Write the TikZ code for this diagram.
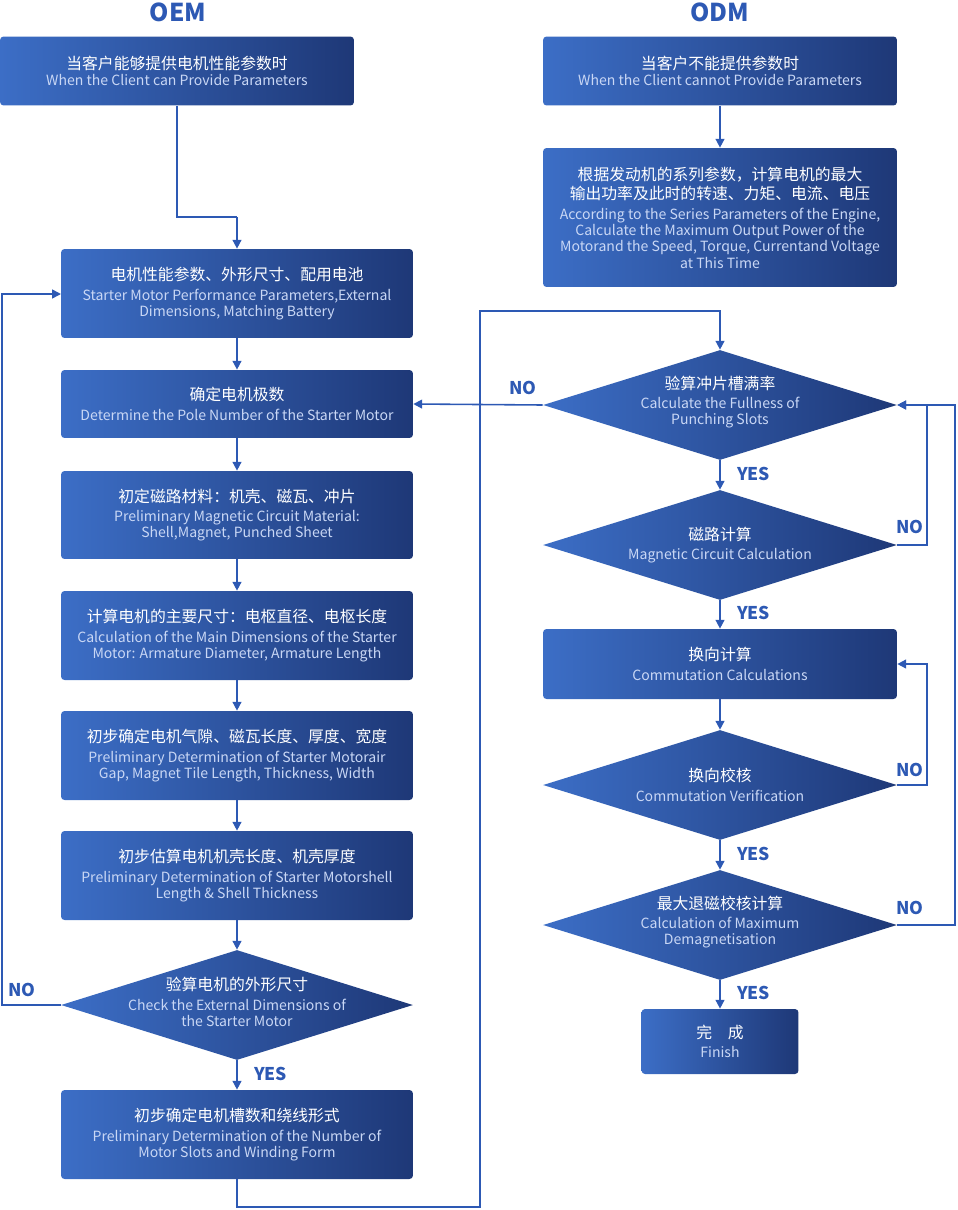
\documentclass[tikz,border=0pt]{standalone}
\usepackage{fontspec}
\setmainfont{Noto Sans CJK SC}
\usetikzlibrary{arrows.meta,shapes.geometric}
\definecolor{boxlight}{HTML}{3C6EC6}
\definecolor{boxdark}{HTML}{1E3877}
\definecolor{entext}{HTML}{C9D7F5}
\definecolor{flow}{HTML}{2D59B4}
\newcommand{\zh}[1]{{\fontsize{9pt}{9.2pt}\selectfont #1}}
\newcommand{\en}[1]{{\color{entext}\fontsize{8pt}{9.2pt}\selectfont #1}}
\tikzset{
  box/.style={rectangle, rounded corners=2pt, left color=boxlight, right color=boxdark,
    text=white, align=center, minimum width=7.04cm, inner sep=2pt,
    font=\fontsize{8pt}{9.2pt}\selectfont},
  dia/.style={diamond, left color=boxlight, right color=boxdark,
    minimum width=7.08cm, minimum height=2.2cm, inner sep=0pt},
  diatext/.style={text=white, align=center, font=\fontsize{8pt}{9.2pt}\selectfont},
  line/.style={flow, line width=0.9pt},
  arr/.style={line, -{Triangle[length=5pt,width=5pt]}},
  lab/.style={flow, font=\bfseries\fontsize{10pt}{12pt}\selectfont},
  head/.style={flow, font=\bfseries\fontsize{14pt}{16pt}\selectfont}
}
\begin{document}
\begin{tikzpicture}[x=0.02cm, y=-0.02cm]
        \useasboundingbox (0,0) rectangle (957,1210);
        \node[head] (oem) at (178,12) {OEM};
        \node[head] (odm) at (720,12) {ODM};

        \node[box, minimum width=7.08cm, minimum height=1.38cm] (can) at (177,71) {\zh{当客户能够提供电机性能参数时}\\\en{When the Client can Provide Parameters}};
        \node[box, minimum width=7.08cm, minimum height=1.38cm] (cannot) at (720,71) {\zh{当客户不能提供参数时}\\\en{When the Client cannot Provide Parameters}};
        \node[box, minimum width=7.08cm, minimum height=2.78cm] (engine) at (720,217.5) {\zh{根据发动机的系列参数，计算电机的最大}\\[2pt]\zh{输出功率及此时的转速、力矩、电流、电压}\\[2pt]\en{According to the Series Parameters of the Engine,}\\\en{Calculate the Maximum Output Power of the}\\\en{Motorand the Speed, Torque, Currentand Voltage}\\\en{at This Time}};

        \node[box, minimum height=1.78cm] (perf) at (237,293.5) {\zh{电机性能参数、外形尺寸、配用电池}\\[2pt]\en{Starter Motor Performance Parameters,External}\\\en{Dimensions, Matching Battery}};
        \node[box, minimum height=1.36cm] (pole) at (237,404) {\zh{确定电机极数}\\[2pt]\en{Determine the Pole Number of the Starter Motor}};
        \node[box, minimum height=1.76cm] (mat) at (237,515) {\zh{初定磁路材料：机壳、磁瓦、冲片}\\[2pt]\en{Preliminary Magnetic Circuit Material:}\\\en{Shell,Magnet, Punched Sheet}};
        \node[box, minimum height=1.78cm] (dim) at (237,635.5) {\zh{计算电机的主要尺寸：电枢直径、电枢长度}\\[2pt]\en{Calculation of the Main Dimensions of the Starter}\\\en{Motor: Armature Diameter, Armature Length}};
        \node[box, minimum height=1.78cm] (gap) at (237,755.5) {\zh{初步确定电机气隙、磁瓦长度、厚度、宽度}\\[2pt]\en{Preliminary Determination of Starter Motorair}\\\en{Gap, Magnet Tile Length, Thickness, Width}};
        \node[box, minimum height=1.78cm] (shell) at (237,875.5) {\zh{初步估算电机机壳长度、机壳厚度}\\[2pt]\en{Preliminary Determination of Starter Motorshell}\\\en{Length \& Shell Thickness}};
        \node[dia, minimum width=7.04cm] (check) at (237,1005) {};
        \node[diatext] (checkt) at (237,1002) {\zh{验算电机的外形尺寸}\\[2pt]\en{Check the External Dimensions of}\\\en{the Starter Motor}};
        \node[box, minimum height=1.78cm] (slots) at (237,1134.5) {\zh{初步确定电机槽数和绕线形式}\\[2pt]\en{Preliminary Determination of the Number of}\\\en{Motor Slots and Winding Form}};

        \node[dia] (full) at (720,405) {};
        \node[diatext] (fullt) at (720,402) {\zh{验算冲片槽满率}\\[2pt]\en{Calculate the Fullness of}\\\en{Punching Slots}};
        \node[dia] (mag) at (720,545) {};
        \node[diatext] (magt) at (720,545) {\zh{磁路计算}\\[2pt]\en{Magnetic Circuit Calculation}};
        \node[box, minimum width=7.08cm, minimum height=1.4cm] (comm) at (720,664) {\zh{换向计算}\\[2pt]\en{Commutation Calculations}};
        \node[dia] (verif) at (720,785) {};
        \node[diatext] (veritt) at (720,785) {\zh{换向校核}\\[2pt]\en{Commutation Verification}};
        \node[dia] (demag) at (720,925) {};
        \node[diatext] (demagt) at (720,922) {\zh{最大退磁校核计算}\\[2pt]\en{Calculation of Maximum}\\\en{Demagnetisation}};
        \node[box, minimum width=3.14cm, minimum height=1.3cm] (finish) at (720,1041.5) {\zh{完\quad 成}\\[2pt]\en{Finish}};

        \coordinate (j1) at (237,217);
        \draw[line] (can.south) |- (j1);
        \draw[arr] (j1) -- (perf.north);
        \draw[arr] (cannot) -- (engine);
        \draw[arr] (perf) -- (pole);
        \draw[arr] (pole) -- (mat);
        \draw[arr] (mat) -- (dim);
        \draw[arr] (dim) -- (gap);
        \draw[arr] (gap) -- (shell);
        \draw[arr] (shell) -- (check);
        \draw[arr] (check) -- node[lab, right, pos=0.45, xshift=6pt]{YES} (slots);
        \draw[arr] (check.west) -- (2,1005) |- (61,294);
        \node[lab] (no1) at (22,990) {NO};
        \draw[arr] (slots.south) -- (237,1207) -- (480,1207) -- (480,311) -| (full.north);

        \draw[arr] (full.west) -- (pole.east);
        \node[lab] (no2) at (523,388) {NO};
        \draw[arr] (full) -- node[lab, right, pos=0.45, xshift=6pt]{YES} (mag);
        \draw[arr] (mag.east) -- (927,545) |- (full.east);
        \node[lab] (no3) at (910,527) {NO};
        \draw[arr] (mag) -- node[lab, right, pos=0.45, xshift=6pt]{YES} (comm);
        \draw[arr] (comm) -- (verif);
        \draw[arr] (verif.east) -- (927,785) |- (comm.east);
        \node[lab] (no4) at (910,770) {NO};
        \draw[arr] (verif) -- node[lab, right, pos=0.45, xshift=6pt]{YES} (demag);
        \draw[arr] (demag.east) -- (955,925) |- (full.east);
        \node[lab] (no5) at (910,908) {NO};
        \draw[arr] (demag) -- node[lab, right, pos=0.45, xshift=6pt]{YES} (finish);
\end{tikzpicture}
\end{document}
